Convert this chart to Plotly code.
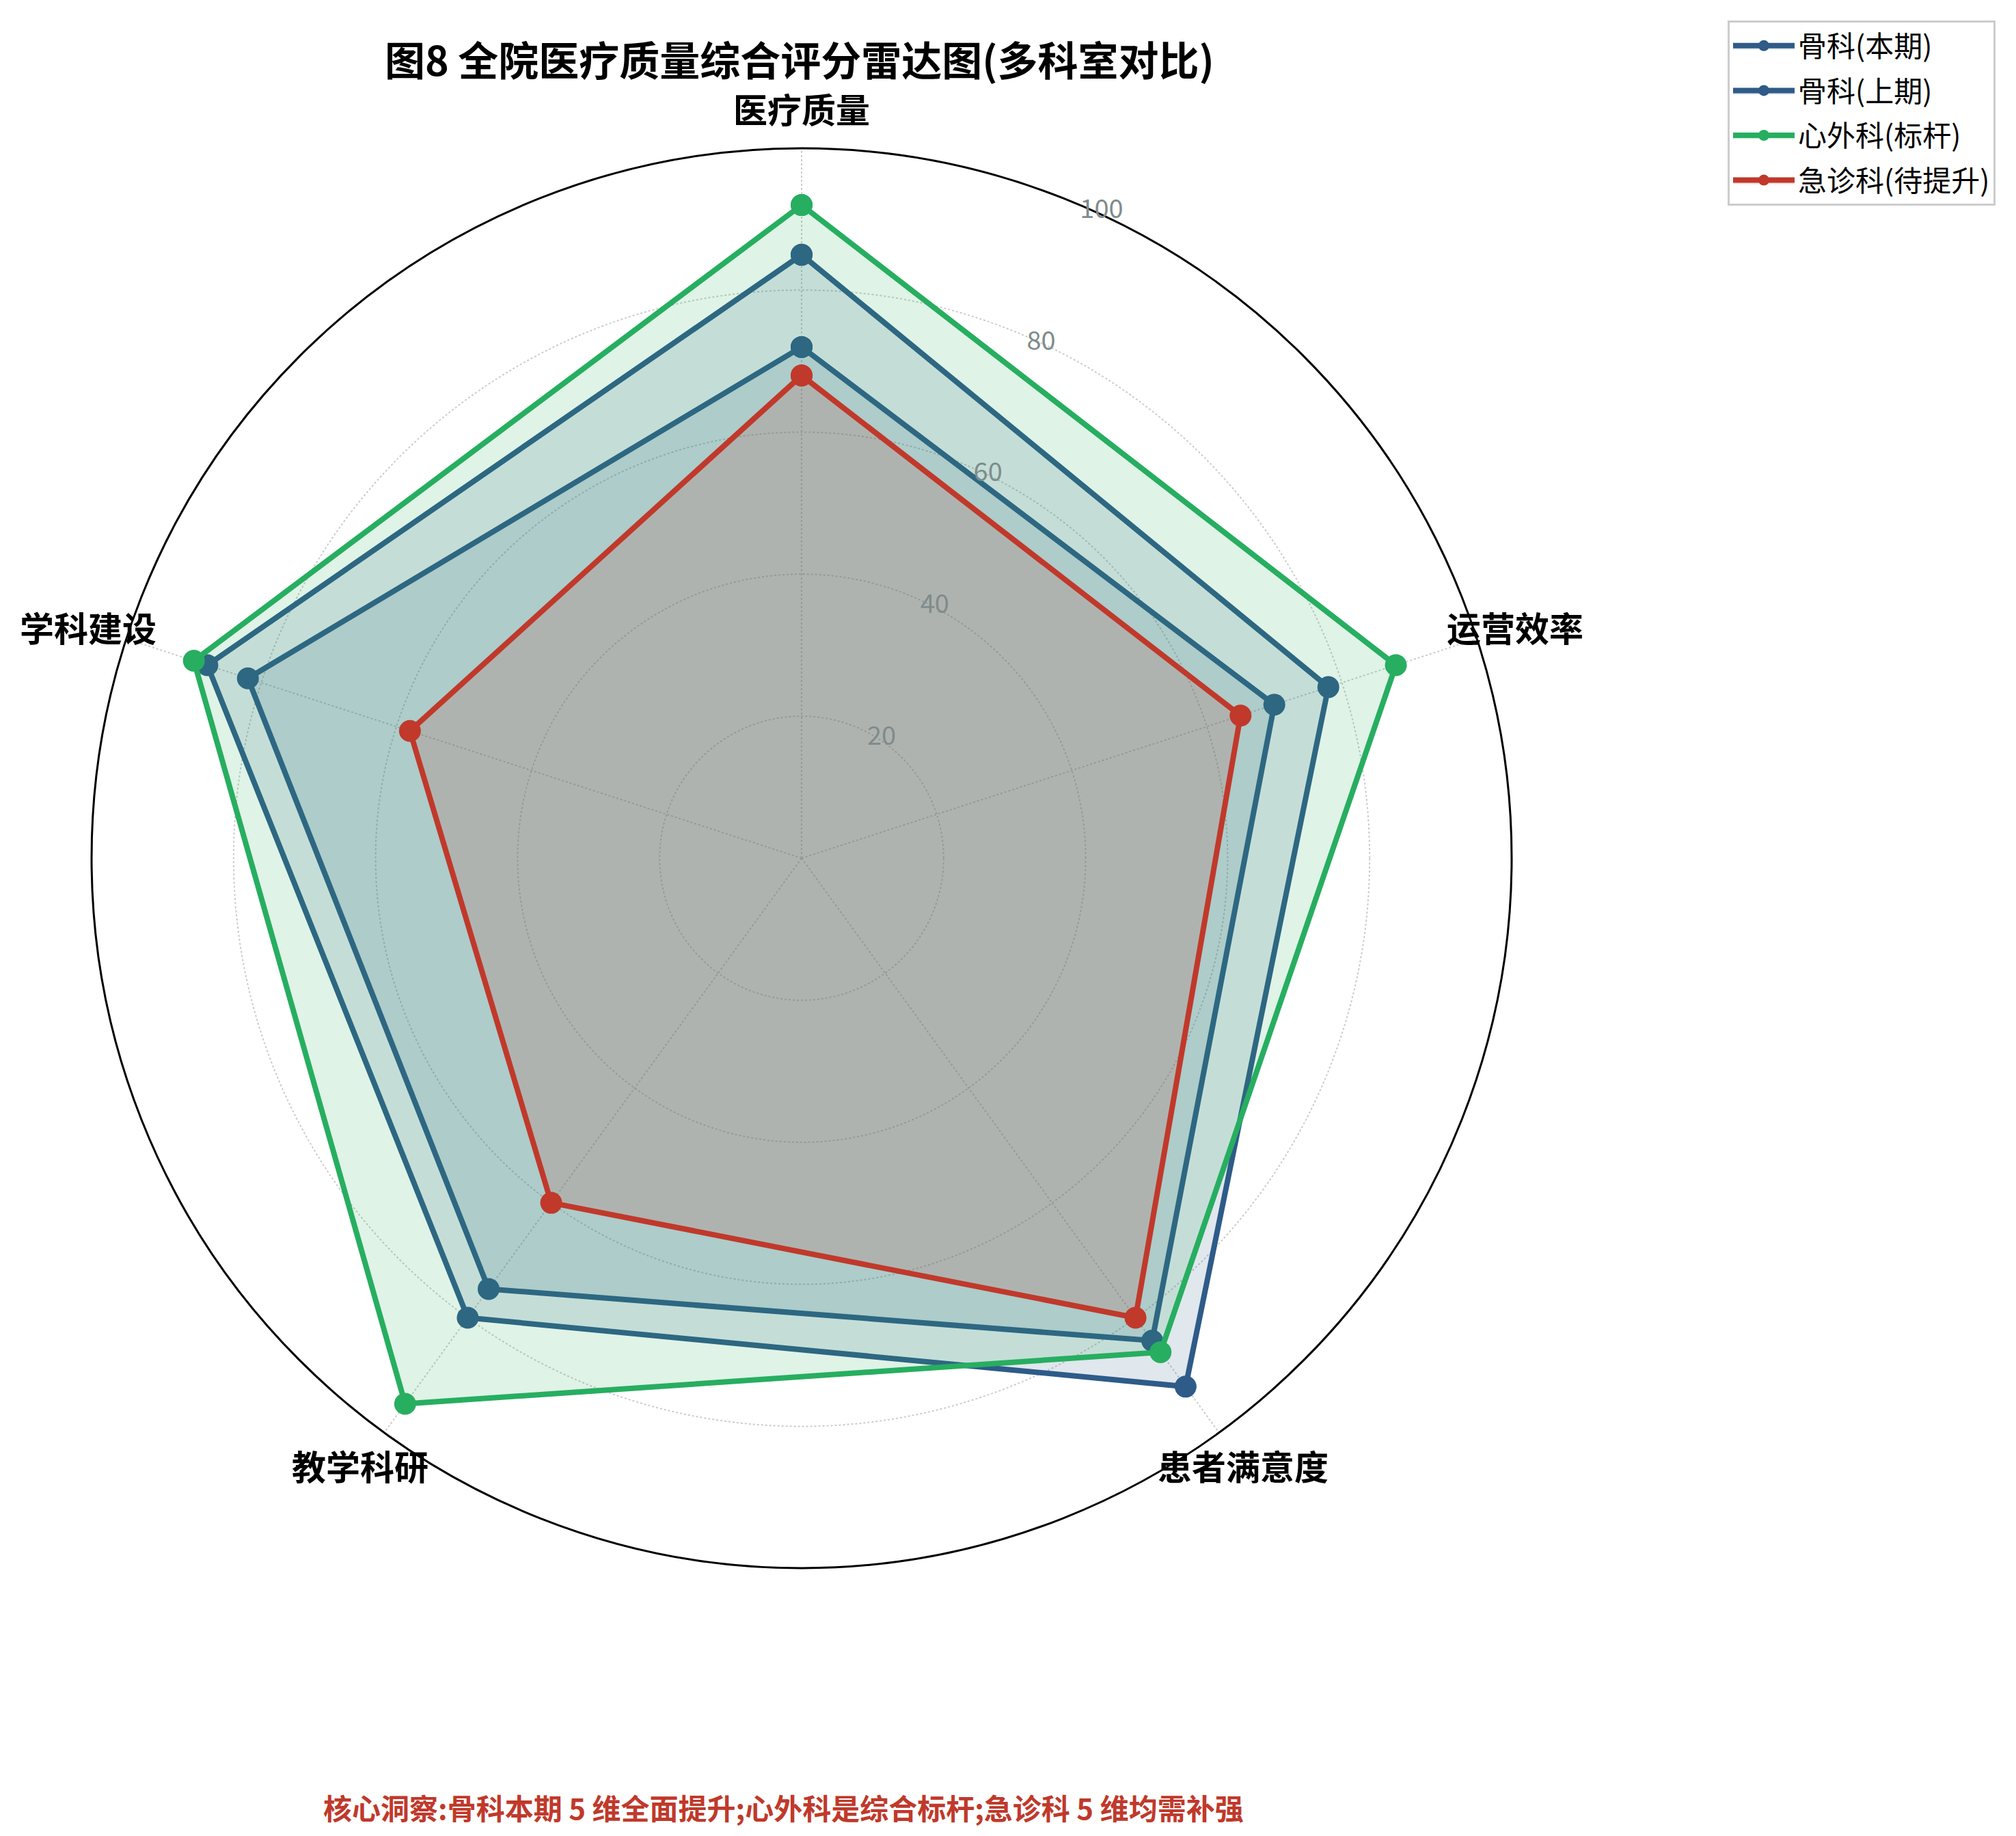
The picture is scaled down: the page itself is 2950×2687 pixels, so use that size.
import math
import plotly.graph_objects as go

# Data
categories = ['医疗质量', '运营效率', '患者满意度', '教学科研', '学科建设']
ortho_now = [85, 78, 92, 80, 88]
ortho_prev = [72, 70, 84, 75, 82]
cardiac = [92, 88, 86, 95, 90]
emergency = [68, 65, 80, 60, 58]
radial_ticks = [20, 40, 60, 80, 100]

series_names = ['骨科(本期)', '骨科(上期)', '心外科(标杆)', '急诊科(待提升)']
series_values = [ortho_now, ortho_prev, cardiac, emergency]
series_colors = ['#2E5B88', '#2E5B88', '#27AE60', '#C0392B']
series_fills = ['rgba(46,91,136,0.15)', 'rgba(46,91,136,0.15)',
                'rgba(39,174,96,0.15)', 'rgba(192,57,43,0.17)']

title = '图8 全院医疗质量综合评分雷达图(多科室对比)'
note = '核心洞察:骨科本期 5 维全面提升;心外科是综合标杆;急诊科 5 维均需补强'

W, H = 2950, 2687
FONT = 'Noto Sans CJK SC'
OFF = 8  # page body margin pushes the figure by this much

# polar placement (page pixels)
cx, cy, R = 1173 - OFF, 1256 - OFF, 1039
RAXIS_ANGLE = 68

fig = go.Figure()
for name, vals, col, fillc in zip(series_names, series_values, series_colors, series_fills):
    fig.add_trace(go.Scatterpolar(
        r=vals + vals[:1],
        theta=categories + categories[:1],
        name=name,
        legendgroup=name,
        mode='lines+markers',
        fill='toself',
        fillcolor=fillc,
        line=dict(color=col, width=8),
        marker=dict(color=col, size=32),
    ))

# category labels, placed just outside the outer ring
annotations = []
step = 360 / len(categories)
for i, cat in enumerate(categories):
    ang = math.radians(i * step)
    rr = R * 1.057
    px = cx + rr * math.sin(ang)
    py = cy - rr * math.cos(ang)
    annotations.append(dict(
        x=px / W, y=1 - py / H, xref='paper', yref='paper',
        text=cat, showarrow=False, xanchor='center', yanchor='middle',
        font=dict(family=FONT, size=50, color='black', weight='bold'),
    ))

annotations.append(dict(
    x=(1146 - OFF) / W, y=1 - (2644 - OFF) / H, xref='paper', yref='paper',
    text=note, showarrow=False, xanchor='center', yanchor='middle',
    font=dict(family=FONT, size=42, color='#C0392B', weight='bold'),
))

fig.update_layout(
    width=W, height=H,
    margin=dict(l=0, r=0, t=0, b=0),
    paper_bgcolor='white',
    font=dict(family=FONT),
    title=dict(text=title, x=(1170 - OFF) / W, xanchor='center',
               y=1 - (90 - OFF) / H, yanchor='middle',
               font=dict(family=FONT, size=59, color='black', weight='bold')),
    polar=dict(
        domain=dict(x=[(cx - R) / W, (cx + R) / W], y=[1 - (cy + R) / H, 1 - (cy - R) / H]),
        bgcolor='white',
        angularaxis=dict(
            rotation=90, direction='clockwise',
            showticklabels=False, ticks='',
            showline=True, linecolor='black', linewidth=3,
            gridcolor='#CCCCCC', griddash='dot', gridwidth=2,
        ),
        radialaxis=dict(
            range=[0, 100], tickvals=radial_ticks, angle=RAXIS_ANGLE, side='clockwise',
            tickangle=RAXIS_ANGLE, showline=False, ticks='',
            tickfont=dict(family=FONT, size=38, color='#7F8C8D'),
            gridcolor='#CCCCCC', griddash='dot', gridwidth=2,
        ),
    ),
    legend=dict(
        x=(2920 - OFF) / W, xanchor='right', y=1 - (30 - OFF) / H, yanchor='top',
        bgcolor='white', bordercolor='#CCCCCC', borderwidth=3,
        font=dict(family=FONT, size=42, color='black'),
        tracegroupgap=8, itemwidth=90,
    ),
    annotations=annotations,
    showlegend=True,
)

fig.write_html("out.html")
